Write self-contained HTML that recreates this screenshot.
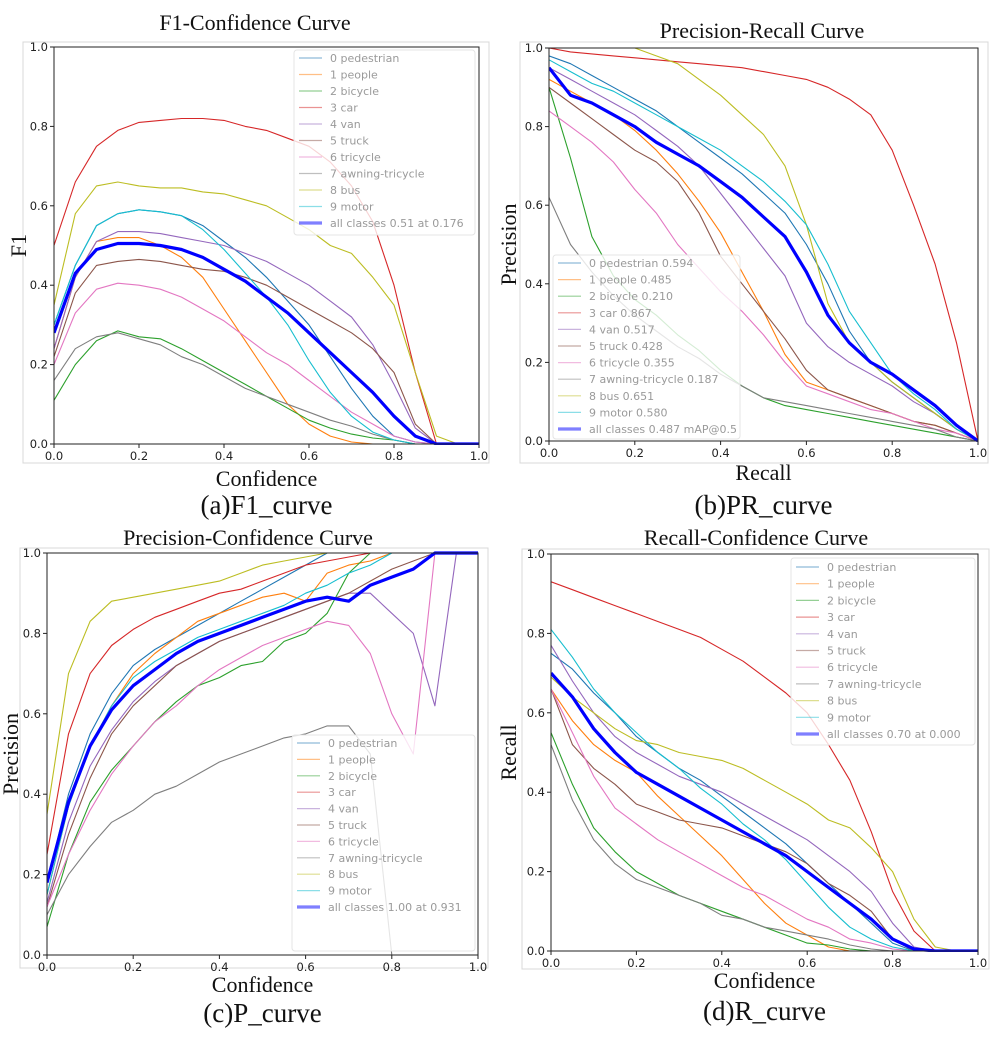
<!DOCTYPE html>
<html><head><meta charset="utf-8"><style>
body{margin:0;background:#fff;width:998px;height:1046px;overflow:hidden}
svg{display:block}
.t{font-family:"Liberation Serif",serif;fill:#111}
.k{font-family:"DejaVu Sans","Liberation Sans",sans-serif;font-size:11.5px;fill:#222}
.lg{font-family:"DejaVu Sans","Liberation Sans",sans-serif;font-size:11px;fill:#9a9a9a}
</style></head><body>
<svg id="s" width="998" height="1046" xmlns="http://www.w3.org/2000/svg"></svg>
<script>
const xs=[0,0.05,0.1,0.15,0.2,0.25,0.3,0.35,0.4,0.45,0.5,0.55,0.6,0.65,0.7,0.75,0.8,0.85,0.9,0.95,1.0];
const classNames=["0 pedestrian","1 people","2 bicycle","3 car","4 van","5 truck","6 tricycle","7 awning-tricycle","8 bus","9 motor"];
const colors=["#1f77b4","#ff7f0e","#2ca02c","#d62728","#9467bd","#8c564b","#e377c2","#7f7f7f","#bcbd22","#17becf"];
const ticks=[0,0.2,0.4,0.6,0.8,1.0];
const tickLabels=["0.0","0.2","0.4","0.6","0.8","1.0"];
const prAP=["0.594","0.485","0.210","0.867","0.517","0.428","0.355","0.187","0.651","0.580"];
const f1Data=[
[0.30,0.45,0.55,0.58,0.59,0.585,0.575,0.55,0.51,0.47,0.42,0.36,0.30,0.22,0.14,0.07,0.02,0.005,0,0,0],
[0.24,0.42,0.51,0.52,0.52,0.50,0.47,0.42,0.34,0.26,0.18,0.10,0.05,0.02,0.005,0,0,0,0,0,0],
[0.11,0.20,0.26,0.285,0.27,0.265,0.24,0.21,0.18,0.15,0.12,0.09,0.06,0.04,0.025,0.015,0.01,0,0,0,0],
[0.50,0.66,0.75,0.79,0.81,0.815,0.82,0.82,0.815,0.80,0.79,0.77,0.75,0.71,0.65,0.56,0.40,0.18,0,0,0],
[0.24,0.42,0.51,0.535,0.535,0.53,0.52,0.51,0.50,0.48,0.46,0.43,0.40,0.36,0.32,0.25,0.15,0.04,0,0,0],
[0.22,0.38,0.45,0.46,0.465,0.46,0.45,0.44,0.435,0.42,0.40,0.37,0.34,0.31,0.28,0.24,0.18,0.05,0,0,0],
[0.20,0.33,0.39,0.405,0.40,0.39,0.37,0.34,0.31,0.27,0.23,0.20,0.16,0.12,0.08,0.05,0.02,0.005,0,0,0],
[0.16,0.24,0.27,0.28,0.265,0.25,0.22,0.20,0.17,0.14,0.12,0.10,0.08,0.06,0.045,0.025,0.01,0,0,0,0],
[0.35,0.58,0.65,0.66,0.65,0.645,0.645,0.635,0.63,0.615,0.60,0.57,0.54,0.50,0.48,0.42,0.35,0.18,0.02,0,0],
[0.30,0.45,0.55,0.58,0.59,0.585,0.575,0.54,0.49,0.43,0.37,0.30,0.21,0.13,0.07,0.03,0.01,0,0,0,0]];
const f1All=[0.28,0.43,0.49,0.505,0.505,0.50,0.49,0.47,0.44,0.41,0.37,0.33,0.28,0.23,0.18,0.13,0.07,0.02,0,0,0];
const prData=[
[0.98,0.96,0.93,0.90,0.87,0.84,0.80,0.76,0.72,0.68,0.63,0.58,0.50,0.40,0.28,0.20,0.15,0.11,0.07,0.03,0],
[0.92,0.89,0.86,0.83,0.79,0.74,0.68,0.61,0.53,0.43,0.33,0.22,0.15,0.13,0.11,0.09,0.07,0.05,0.04,0.02,0],
[0.90,0.72,0.52,0.42,0.36,0.32,0.27,0.23,0.18,0.14,0.11,0.09,0.08,0.07,0.06,0.05,0.04,0.03,0.02,0.01,0],
[1.0,0.99,0.985,0.98,0.975,0.97,0.965,0.96,0.955,0.95,0.94,0.93,0.92,0.90,0.87,0.83,0.74,0.60,0.45,0.25,0],
[0.95,0.92,0.89,0.86,0.83,0.79,0.75,0.70,0.63,0.56,0.49,0.42,0.30,0.24,0.20,0.17,0.14,0.10,0.07,0.03,0],
[0.90,0.86,0.82,0.78,0.74,0.71,0.66,0.58,0.47,0.40,0.33,0.26,0.18,0.13,0.11,0.09,0.07,0.05,0.04,0.02,0],
[0.84,0.80,0.76,0.71,0.64,0.58,0.50,0.44,0.38,0.33,0.27,0.20,0.14,0.12,0.10,0.08,0.07,0.05,0.03,0.02,0],
[0.62,0.50,0.43,0.37,0.32,0.28,0.24,0.21,0.17,0.14,0.11,0.10,0.09,0.08,0.07,0.06,0.05,0.04,0.03,0.01,0],
[1,1,1,1,1,0.98,0.96,0.92,0.88,0.83,0.78,0.70,0.55,0.35,0.25,0.20,0.15,0.11,0.07,0.03,0],
[0.97,0.94,0.91,0.89,0.86,0.83,0.80,0.77,0.74,0.70,0.66,0.61,0.55,0.45,0.33,0.25,0.17,0.12,0.08,0.03,0]];
const prAll=[0.95,0.88,0.86,0.83,0.80,0.76,0.73,0.70,0.66,0.62,0.57,0.52,0.43,0.32,0.25,0.20,0.17,0.13,0.09,0.04,0];
const pData=[
[0.18,0.40,0.55,0.65,0.72,0.76,0.79,0.82,0.85,0.88,0.91,0.94,0.97,1,1,1,1,1,1,1,1],
[0.15,0.37,0.52,0.62,0.70,0.75,0.79,0.83,0.85,0.87,0.89,0.90,0.88,0.95,0.97,0.98,1,1,1,1,1],
[0.07,0.25,0.38,0.46,0.52,0.58,0.63,0.67,0.69,0.72,0.73,0.78,0.80,0.85,0.95,1,1,1,1,1,1],
[0.25,0.55,0.70,0.77,0.81,0.84,0.86,0.88,0.90,0.91,0.93,0.95,0.97,0.98,0.99,1,1,1,1,1,1],
[0.13,0.33,0.47,0.56,0.63,0.68,0.72,0.75,0.78,0.80,0.82,0.84,0.86,0.88,0.90,0.90,0.85,0.80,0.62,1,1],
[0.12,0.30,0.44,0.55,0.62,0.67,0.72,0.75,0.78,0.80,0.82,0.84,0.86,0.88,0.90,0.93,0.96,0.98,1,1,1],
[0.12,0.25,0.36,0.45,0.52,0.58,0.62,0.67,0.71,0.74,0.77,0.79,0.81,0.83,0.82,0.75,0.60,0.50,1,1,1],
[0.10,0.20,0.27,0.33,0.36,0.40,0.42,0.45,0.48,0.50,0.52,0.54,0.55,0.57,0.57,0.50,0,0,0,0,0],
[0.35,0.70,0.83,0.88,0.89,0.90,0.91,0.92,0.93,0.95,0.97,0.98,0.99,1,1,1,1,1,1,1,1],
[0.15,0.37,0.52,0.62,0.69,0.73,0.76,0.79,0.81,0.83,0.85,0.87,0.90,0.92,0.95,0.97,1,1,1,1,1]];
const pAll=[0.18,0.38,0.52,0.61,0.67,0.71,0.75,0.78,0.80,0.82,0.84,0.86,0.88,0.89,0.88,0.92,0.94,0.96,1,1,1];
const rData=[
[0.75,0.71,0.65,0.60,0.54,0.50,0.46,0.43,0.39,0.35,0.31,0.27,0.22,0.17,0.12,0.07,0.02,0,0,0,0],
[0.66,0.58,0.52,0.48,0.45,0.39,0.34,0.29,0.24,0.18,0.12,0.07,0.04,0.01,0,0,0,0,0,0,0],
[0.55,0.42,0.31,0.25,0.20,0.17,0.14,0.12,0.10,0.08,0.06,0.04,0.02,0.015,0.005,0,0,0,0,0,0],
[0.93,0.91,0.89,0.87,0.85,0.83,0.81,0.79,0.76,0.73,0.69,0.65,0.60,0.52,0.43,0.30,0.15,0.05,0,0,0],
[0.77,0.68,0.60,0.54,0.50,0.47,0.44,0.42,0.40,0.37,0.34,0.31,0.28,0.24,0.20,0.15,0.07,0.01,0,0,0],
[0.66,0.52,0.46,0.42,0.37,0.35,0.33,0.32,0.31,0.29,0.27,0.25,0.22,0.17,0.14,0.10,0.03,0,0,0,0],
[0.66,0.55,0.44,0.36,0.32,0.28,0.25,0.22,0.19,0.16,0.14,0.11,0.08,0.06,0.03,0.02,0.005,0,0,0,0],
[0.52,0.38,0.28,0.22,0.18,0.16,0.14,0.12,0.09,0.08,0.06,0.05,0.04,0.03,0.015,0.005,0,0,0,0,0],
[0.69,0.64,0.60,0.56,0.53,0.52,0.50,0.49,0.48,0.46,0.43,0.40,0.37,0.33,0.31,0.26,0.20,0.08,0.01,0,0],
[0.81,0.74,0.66,0.60,0.55,0.50,0.46,0.41,0.37,0.32,0.28,0.23,0.17,0.11,0.06,0.03,0.01,0,0,0,0]];
const rAll=[0.70,0.64,0.56,0.50,0.45,0.42,0.39,0.36,0.33,0.30,0.27,0.24,0.20,0.16,0.12,0.08,0.03,0.005,0,0,0];

const svg=document.getElementById('s');
const NS='http://www.w3.org/2000/svg';
function mk(tag,attrs,parent,txt){const e=document.createElementNS(NS,tag);for(const k in attrs)e.setAttribute(k,attrs[k]);if(txt!==undefined)e.textContent=txt;parent.appendChild(e);return e;}

function chart(cfg){
  const g=mk('g',{},svg);
  
  
  const X=v=>cfg.x0+(cfg.x1-cfg.x0)*v, Y=v=>cfg.y0-(cfg.y0-cfg.y1)*v;
  const fr=mk('rect',{x:cfg.fx,y:cfg.fy,width:cfg.fw,height:cfg.fh,fill:'none',stroke:'#d8d8d8','stroke-width':1},g);
  
  
  const t=mk('text',{x:cfg.tx,y:cfg.ty,'text-anchor':'middle','class':'t','font-size':22},g,cfg.title);
  
  
  const clipId='c'+cfg.id;
  const cl=mk('clipPath',{id:clipId},g);mk('rect',{x:cfg.x0,y:cfg.y1-2,width:cfg.x1-cfg.x0,height:cfg.y0-cfg.y1+3},cl);
  const lines=mk('g',{'clip-path':'url(#'+clipId+')'},g);
  cfg.data.forEach((arr,i)=>{
    const p=mk('polyline',{points:arr.map((v,j)=>X(xs[j]).toFixed(1)+','+Y(v).toFixed(1)).join(' '),fill:'none',stroke:colors[i],'stroke-width':1.1,'stroke-linejoin':'round'},lines);
    
    
  });
  const pa=mk('polyline',{points:cfg.all.map((v,j)=>X(xs[j]).toFixed(1)+','+Y(v).toFixed(1)).join(' '),fill:'none',stroke:'#0000ff','stroke-width':3.2,'stroke-linejoin':'round'},lines);
  
  
  const ax=mk('rect',{x:cfg.x0,y:cfg.y1,width:cfg.x1-cfg.x0,height:cfg.y0-cfg.y1,fill:'none',stroke:'#222','stroke-width':1},g);
  
  
  ticks.forEach((v,i)=>{
    mk('line',{x1:X(v),x2:X(v),y1:cfg.y0,y2:cfg.y0+4,stroke:'#222'},g);
    const tx=mk('text',{x:X(v),y:cfg.y0+16,'text-anchor':'middle','class':'k'},g,tickLabels[i]);
    
    
    mk('line',{x1:cfg.x0-4,x2:cfg.x0,y1:Y(v),y2:Y(v),stroke:'#222'},g);
    const ty=mk('text',{x:cfg.x0-6,y:Y(v)+4,'text-anchor':'end','class':'k'},g,tickLabels[i]);
    
    
  });
  const xl=mk('text',{x:(cfg.x0+cfg.x1)/2,y:cfg.xly,'text-anchor':'middle','class':'t','font-size':22},g,cfg.xlabel);
  
  
  const yl=mk('text',{x:0,y:0,'text-anchor':'middle','class':'t','font-size':22,transform:'translate('+cfg.ylx+','+(cfg.y0+cfg.y1)/2+') rotate(-90)'},g,cfg.ylabel);
  
  
  const c=mk('text',{x:(cfg.x0+cfg.x1)/2,y:cfg.capy,'text-anchor':'middle','class':'t','font-size':27},g,cfg.caption);
  
  
  const L=cfg.leg;
  const lb=mk('rect',{x:L.x,y:L.y,width:L.w,height:L.h,rx:3,fill:'#fff','fill-opacity':0.8,stroke:'#e4e4e4'},g);
  
  
  const labels=classNames.map((n,i)=>cfg.suffix?n+' '+cfg.suffix[i]:n).concat([cfg.allLabel]);
  labels.forEach((s,i)=>{
    const yy=L.y+L.r0+i*L.dy;
    mk('line',{x1:L.x+5,x2:L.x+28,y1:yy,y2:yy,stroke:i<10?colors[i]:'#0000ff','stroke-width':i<10?1.2:3.2,'stroke-opacity':0.5},g);
    const te=mk('text',{x:L.x+36,y:yy+4,'class':'lg'},g,s);
    
    
  });
}
chart({id:'f1-chart',x0:54,x1:479,y0:444,y1:47,fx:23,fy:42,fw:466,fh:421,tx:255,ty:30,title:'F1-Confidence Curve',xlabel:'Confidence',ylabel:'F1',xly:486,ylx:26,capy:514,caption:'(a)F1_curve',data:f1Data,all:f1All,allLabel:'all classes 0.51 at 0.176',
 leg:{x:294,y:50,w:181,h:185,r0:8,dy:16.5}});
chart({id:'pr-chart',x0:549,x1:978,y0:441,y1:48,fx:520,fy:42,fw:468,fh:421,tx:762,ty:38,title:'Precision-Recall Curve',xlabel:'Recall',ylabel:'Precision',xly:480,ylx:516,capy:514,caption:'(b)PR_curve',data:prData,all:prAll,suffix:prAP,allLabel:'all classes 0.487 mAP@0.5',
 leg:{x:553,y:255,w:187,h:184,r0:8,dy:16.6}});
chart({id:'p-chart',x0:47,x1:478,y0:955,y1:553,fx:20,fy:548,fw:468,fh:420,tx:248,ty:545,title:'Precision-Confidence Curve',xlabel:'Confidence',ylabel:'Precision',xly:992,ylx:18,capy:1022,caption:'(c)P_curve',data:pData,all:pAll,allLabel:'all classes 1.00 at 0.931',
 leg:{x:292,y:735,w:183,h:216,r0:8,dy:16.4}});
chart({id:'r-chart',x0:551,x1:978,y0:951,y1:554,fx:522,fy:549,fw:467,fh:420,tx:756,ty:545,title:'Recall-Confidence Curve',xlabel:'Confidence',ylabel:'Recall',xly:988,ylx:516,capy:1020,caption:'(d)R_curve',data:rData,all:rAll,allLabel:'all classes 0.70 at 0.000',
 leg:{x:791,y:558,w:184,h:187,r0:9,dy:16.7}});
</script>
</body></html>
